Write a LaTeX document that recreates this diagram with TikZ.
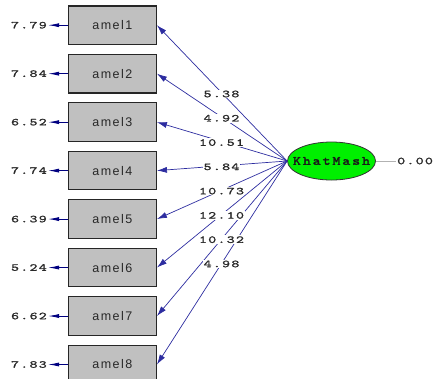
\documentclass[tikz,border=0pt]{standalone}
\usepackage{fontspec}
\usetikzlibrary{arrows.meta,shapes.geometric}
\newfontfamily\numfont[FakeStretch=1.45,LetterSpace=12,FakeBold=1.5]{lmmono10-regular.otf}
\newfontfamily\latfont[FakeStretch=1.2,LetterSpace=16,FakeBold=2.5]{lmmono10-regular.otf}
\newfontfamily\obsfont[LetterSpace=12]{Liberation Sans}
\definecolor{boxgray}{RGB}{192,192,192}
\definecolor{pathblue}{RGB}{45,45,160}
\definecolor{errnavy}{RGB}{0,0,128}
\definecolor{latgreen}{RGB}{0,240,0}
\definecolor{txtgray}{RGB}{40,40,40}
\tikzset{
  obsbox/.style={draw=black!85, line width=1.2pt, fill=boxgray, minimum width=88pt, minimum height=38.5pt, inner sep=0pt, font=\obsfont\fontsize{12.5}{14}\selectfont, text=txtgray},
  errnum/.style={font=\numfont\fontsize{10.5}{13}\selectfont, text=txtgray, inner sep=1pt},
  coeff/.style={errnum, fill=white},
  errarrow/.style={draw=errnavy, line width=0.9pt, -{Latex[length=11pt,width=4pt]}},
  patharrow/.style={draw=pathblue, line width=0.7pt, -{Latex[length=10pt,width=6pt]}},
  latent/.style={ellipse, draw=black!80, line width=0.8pt, fill=latgreen, minimum width=88pt, minimum height=38pt, inner sep=0pt, font=\latfont\fontsize{12.5}{14}\selectfont, text=black!90},
  fixline/.style={draw=black!30, line width=0.8pt}
}
\begin{document}
\begin{tikzpicture}[x=1pt,y=-1pt]
\useasboundingbox (0,0) rectangle (435,378);
\node[latent] (K) at (331.5,161) {\makebox[0pt]{KhatMash}};
\foreach \i/\e in {1/7.79,2/7.84,3/6.52,4/7.74,5/6.39,6/5.24,7/6.62,8/7.83}{
  \pgfmathsetmacro\yy{25.2+48.47*(\i-1)}
  \node[obsbox] (b\i) at (112.35,\yy) {amel\i};
  \node[errnum, anchor=east] (e\i) at (48,\yy) {\e};
  \draw[errarrow] (b\i.west) -- (e\i.east);
  \draw[patharrow] (K.west) -- (b\i.east);
}
\foreach \i/\c in {1/5.38,2/4.92,3/10.51,4/5.84,5/10.73,6/12.10,7/10.32,8/4.98}{
  \pgfmathsetmacro\yy{94+24.28*(\i-1)}
  \node[coeff] (c\i) at (221.5,\yy) {\c};
}
\node[errnum, anchor=west] (z) at (396,161) {0.00};
\draw[fixline] (K.east) -- (z.west);
\end{tikzpicture}
\end{document}
